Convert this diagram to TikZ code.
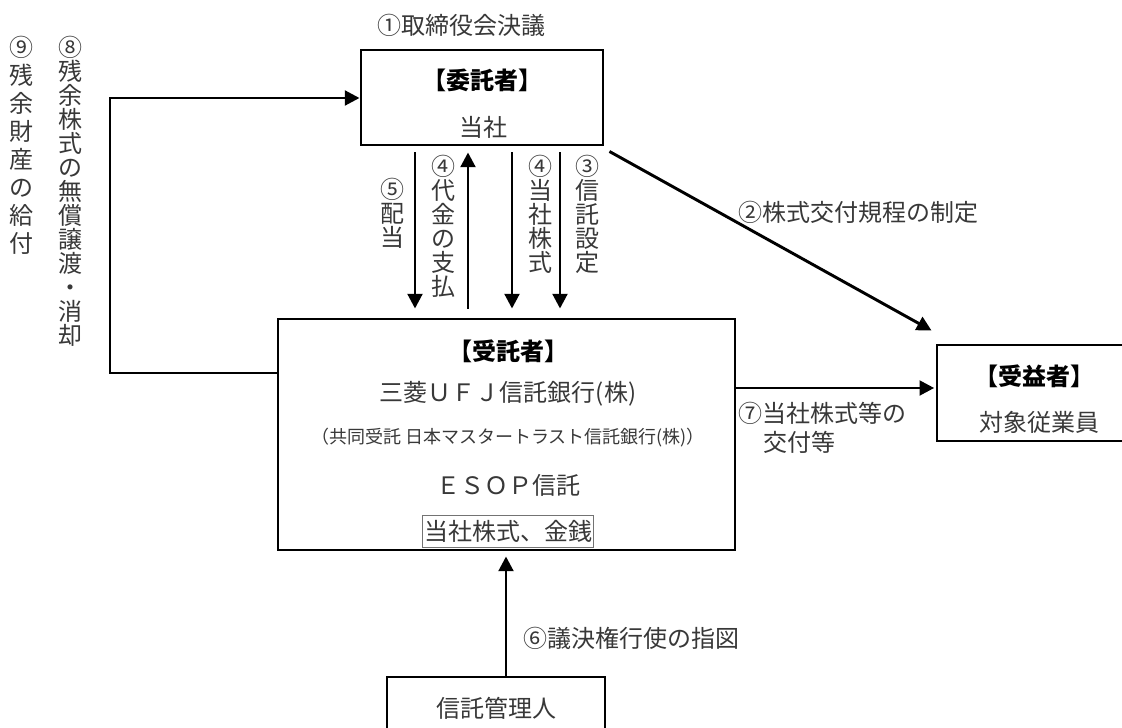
\documentclass[tikz,border=0pt]{standalone}
\usepackage{fontspec}
\setmainfont{Noto Sans CJK JP}
\usetikzlibrary{arrows.meta}
\definecolor{txt}{gray}{0.22}
\begin{document}
\begin{tikzpicture}[x=0.75pt,y=-0.75pt,
  box/.style={draw=black, line width=2.2pt, inner sep=0pt},
  arr/.style={line width=2.2pt, -{Triangle[width=11pt,length=11pt]}},
  lbl/.style={text=txt, inner sep=0pt, font=\fontsize{18}{22}\selectfont},
  hdr/.style={text=black, inner sep=0pt, font=\fontsize{18}{22}\selectfont\bfseries},
  small/.style={text=txt, inner sep=0pt, font=\fontsize{13.5}{16}\selectfont},
  vlbl/.style={text=txt, inner sep=0pt, align=center, anchor=north,
    font={\fontsize{18}{18}\selectfont\lineskiplimit=-20pt}},
  vlblwide/.style={vlbl, font={\fontsize{18}{21}\selectfont\lineskiplimit=-20pt}}]
\useasboundingbox (0,0) rectangle (1122,728);
\clip (0,0) rectangle (1122,728);

% boxes
\node[box, minimum width=181.5pt, minimum height=71.25pt] (top) at (482,97.5) {};
\node[box, minimum width=342.75pt, minimum height=173.25pt] (tru) at (506.5,434.5) {};
\node[box, minimum width=150pt, minimum height=72pt] (ben) at (1037,393) {};
\node[box, minimum width=163.5pt, minimum height=60pt] (mgr) at (496,717) {};

% box texts
\node[hdr] (topA) at (482,80) {【委託者】};
\node[lbl] (topB) at (483,127) {当社};
\node[hdr] (truA) at (508,351) {【受託者】};
\node[lbl] (truB) at (508,394) {三菱ＵＦＪ信託銀行(株)};
\node[small] (truC) at (508,438) {（共同受託 日本マスタートラスト信託銀行(株)）};
\node[lbl] (truD) at (508,485) {ＥＳＯＰ信託};
\node[draw=black!55, line width=0.7pt, text=txt, inner sep=1pt,
      minimum height=24pt, font=\fontsize{18}{22}\selectfont] (asset) at (508,531.5) {当社株式、金銭};
\node[hdr] (benA) at (1034,376) {【受益者】};
\node[lbl] (benB) at (1039,422) {対象従業員};
\node[lbl] (mgrA) at (496,708) {信託管理人};

% outside labels
\node[lbl, anchor=west] (l1) at (377,25) {①取締役会決議};
\node[lbl, anchor=west] (l2) at (738,212) {②株式交付規程の制定};
\node[lbl, anchor=west] (l7a) at (738,413) {⑦当社株式等の};
\node[lbl, anchor=west] (l7b) at (763,442) {交付等};
\node[lbl, anchor=west] (l6) at (523,638) {⑥議決権行使の指図};

% vertical labels
\node[vlblwide] (v9) at (22,36) {⑨\\残\\余\\財\\産\\の\\給\\付};
\node[vlbl] (v8) at (70,36) {⑧\\残\\余\\株\\式\\の\\無\\償\\譲\\渡\\・\\消\\却};
\node[vlbl] (v5) at (392,178) {⑤\\配\\当};
\node[vlbl] (v4a) at (443,155) {④\\代\\金\\の\\支\\払};
\node[vlbl] (v4b) at (540,155) {④\\当\\社\\株\\式};
\node[vlbl] (v3) at (587,155) {③\\信\\託\\設\\定};

% connector coordinates
\coordinate (c5) at (415,0);
\coordinate (c4a) at (468,0);
\coordinate (c4b) at (512,0);
\coordinate (c3) at (560,0);
\coordinate (c6) at (506,0);
\coordinate (y7) at (0,388);
\coordinate (lpA) at (110,373);
\coordinate (lpB) at (110,98);

% connectors
\draw[arr, shorten <=4.5pt, shorten >=6.75pt] (top.south -| c5) -- (tru.north -| c5);
\draw[arr, shorten <=6.75pt, shorten >=4.5pt] (tru.north -| c4a) -- (top.south -| c4a);
\draw[arr, shorten <=4.5pt, shorten >=6.75pt] (top.south -| c4b) -- (tru.north -| c4b);
\draw[arr, shorten <=4.5pt, shorten >=6.75pt] (top.south -| c3) -- (tru.north -| c3);
\draw[arr, shorten >=3.75pt] (mgr.north -| c6) -- (tru.south -| c6);
\draw[arr, shorten >=1pt] (tru.east |- y7) -- (ben.west |- y7);
\draw[arr] ([shift={(5,5)}]top.south east) -- ([shift={(-4,-13)}]ben.north west);
\draw[arr] (tru.west |- lpA) -- (lpA) -- (lpB) -- (top.west |- lpB);
\end{tikzpicture}
\end{document}
